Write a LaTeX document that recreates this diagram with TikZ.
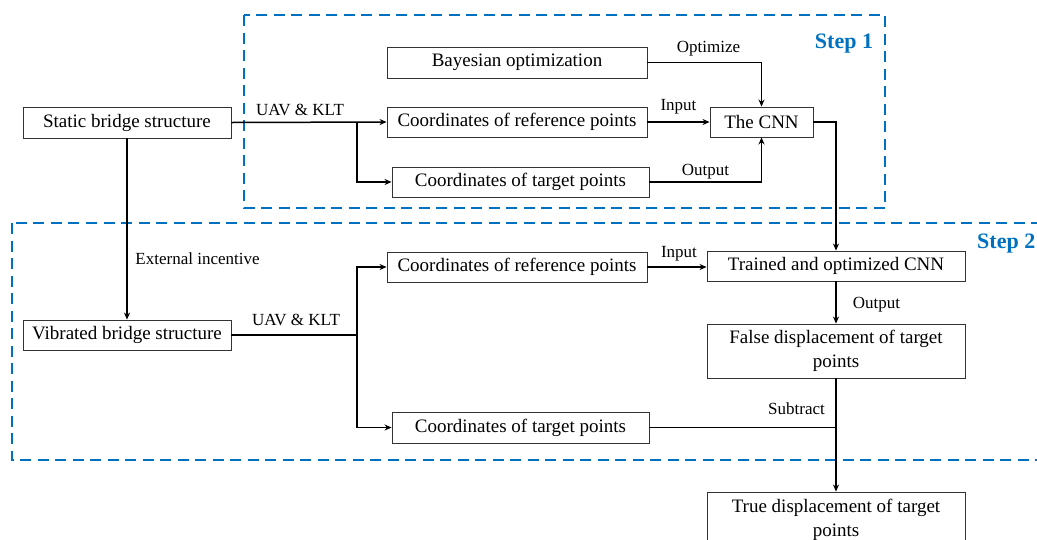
\documentclass[tikz,border=0pt]{standalone}
\usepackage{fontspec}
\setmainfont{Liberation Serif}
\usetikzlibrary{arrows.meta}
\definecolor{stepblue}{RGB}{0,112,192}
\begin{document}
\begin{tikzpicture}[x=1pt,y=-1pt,
  box/.style={draw=black!80, line width=0.9pt, inner sep=0pt,
    font=\fontsize{19}{24}\selectfont, align=center},
  lbl/.style={font=\fontsize{17}{20}\selectfont, inner sep=0pt, anchor=base},
  conn/.style={line width=1.5pt},
  arr/.style={conn, -{Stealth[length=7pt,width=6pt]}},
  stepframe/.style={draw=stepblue, line width=2.6pt, dash pattern=on 11pt off 6.5pt},
  steplbl/.style={text=stepblue, font=\fontsize{22}{26}\selectfont\bfseries, inner sep=0pt}]

\useasboundingbox (0,0) rectangle (1037,539);
\clip (0,0) rectangle (1037,539);

% dashed frames of the two stages
\draw[stepframe] (244,15) rectangle (885,208);
\draw[stepframe] (12,223) rectangle (1060,460);
\node[steplbl, anchor=base] (s1lbl) at (844,48) {Step 1};
\node[steplbl, anchor=base west] (s2lbl) at (977,248) {Step 2};

% boxes
\node[box, minimum width=208pt, minimum height=31pt] (static) at (127,122.5) {Static bridge structure};
\node[box, minimum width=260pt, minimum height=31pt] (bayes) at (517,62.5) {Bayesian optimization};
\node[box, minimum width=260pt, minimum height=30pt] (ref1) at (517,122) {Coordinates of reference points};
\node[box, minimum width=257pt, minimum height=30pt] (tgt1) at (520.5,182) {Coordinates of target points};
\node[box, minimum width=103pt, minimum height=30pt] (cnn) at (761.5,122) {The CNN};
\node[box, minimum width=208pt, minimum height=30pt] (vib) at (127,335) {Vibrated bridge structure};
\node[box, minimum width=260pt, minimum height=30pt] (ref2) at (517,267) {Coordinates of reference points};
\node[box, minimum width=257pt, minimum height=31pt] (tgt2) at (520.5,427.5) {Coordinates of target points};
\node[box, minimum width=258pt, minimum height=30pt] (trained) at (836,266) {Trained and optimized CNN};
\node[box, minimum width=258pt, minimum height=54pt] (false) at (836,351) {False displacement of target\\points};
\node[box, minimum width=258pt, minimum height=55pt] (true) at (836,519.5) {True displacement of target\\points};

% step 1 connectors
\coordinate (split1) at (357,122);
\draw[arr] (static.east) -- (ref1.west);
\draw[arr] (split1) |- (tgt1.west);
\draw[arr] (bayes.east) -| (cnn.north);
\draw[arr] (ref1.east) -- (cnn.west);
\draw[arr] (tgt1.east) -| (cnn.south);
\draw[arr] (cnn.east) -| (trained.north);

% step 2 connectors
\coordinate (split2) at (357,335);
\draw[arr] (static.south) -- (vib.north);
\draw[conn] (vib.east) -- (split2);
\draw[arr] (split2) |- (ref2.west);
\draw[arr] (split2) |- (tgt2.west);
\draw[arr] (ref2.east) -- (ref2.east -| trained.west);
\draw[arr] (trained.south) -- (false.north);
\draw[arr] (false.south) -- (true.north);
\draw[conn] (tgt2.east) -- (tgt2.east -| false.south);

% connector labels
\node[lbl] (l1) at (300,115) {UAV \& KLT};
\node[lbl] (l2) at (708.5,52) {Optimize};
\node[lbl] (l3) at (678.5,110) {Input};
\node[lbl] (l4) at (705.5,175) {Output};
\node[lbl] (l5) at (197.5,264) {External incentive};
\node[lbl] (l6) at (296,325) {UAV \& KLT};
\node[lbl] (l7) at (679,257) {Input};
\node[lbl] (l8) at (876.5,308) {Output};
\node[lbl] (l9) at (796.5,414) {Subtract};
\end{tikzpicture}
\end{document}
